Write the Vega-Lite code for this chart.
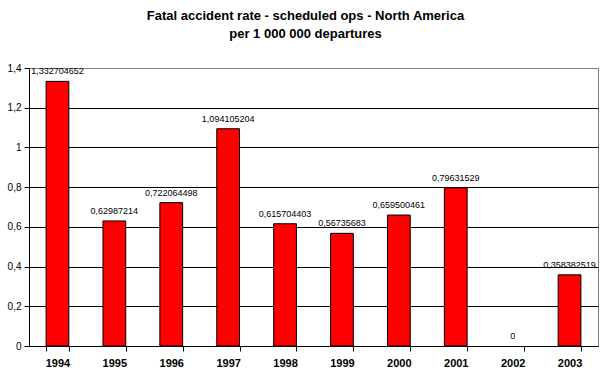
{
  "$schema": "https://vega.github.io/schema/vega-lite/v6.json",
  "width": 569,
  "height": 278,
  "autosize": {"type": "none"},
  "padding": {"left": 29, "top": 68, "right": 8, "bottom": 34},
  "background": "white",
  "title": {
    "text": ["Fatal accident rate - scheduled ops -  North America", "per 1 000 000 departures"],
    "font": "Liberation Sans",
    "fontSize": 13,
    "fontWeight": "bold",
    "color": "black",
    "anchor": "middle",
    "dx": -8,
    "offset": 22,
    "lineHeight": 18
  },
  "config": {
    "locale": {"number": {"decimal": ",", "thousands": " ", "grouping": [3], "currency": ["", ""]}},
    "view": {"stroke": "#808080", "strokeWidth": 1},
    "font": "Liberation Sans"
  },
  "data": {
    "values": [
      {"year": "1994", "rate": 1.332704652},
      {"year": "1995", "rate": 0.62987214},
      {"year": "1996", "rate": 0.722064498},
      {"year": "1997", "rate": 1.094105204},
      {"year": "1998", "rate": 0.615704403},
      {"year": "1999", "rate": 0.56735683},
      {"year": "2000", "rate": 0.659500461},
      {"year": "2001", "rate": 0.79631529},
      {"year": "2002", "rate": 0},
      {"year": "2003", "rate": 0.358382519}
    ]
  },
  "encoding": {
    "x": {
      "field": "year",
      "type": "ordinal",
      "scale": {"paddingInner": 0.6, "paddingOuter": 0.3},
      "axis": {
        "title": null,
        "labelAngle": 0,
        "labelFont": "Liberation Sans",
        "labelFontSize": 11,
        "labelFontWeight": "bold",
        "labelColor": "black",
        "labelPadding": 6,
        "tickBand": "extent",
        "tickColor": "black",
        "tickSize": 5,
        "domainColor": "black",
        "grid": false
      }
    },
    "y": {
      "field": "rate",
      "type": "quantitative",
      "scale": {"domain": [0, 1.4], "nice": false},
      "axis": {
        "title": null,
        "values": [0, 0.2, 0.4, 0.6, 0.8, 1, 1.2, 1.4],
        "format": "~g",
        "labelFont": "Liberation Sans",
        "labelFontSize": 10,
        "labelColor": "black",
        "labelPadding": 3,
        "tickColor": "black",
        "tickSize": 5,
        "domainColor": "black",
        "grid": true,
        "gridColor": {"condition": {"test": "datum.value >= 1.4", "value": "#808080"}, "value": "black"},
        "gridOpacity": 1
      }
    }
  },
  "layer": [
    {
      "transform": [{"filter": "datum.rate > 0"}],
      "mark": {"type": "bar", "color": "#ff0000", "stroke": "black", "strokeWidth": 1}
    },
    {
      "mark": {"type": "text", "baseline": "bottom", "dy": -5, "fontSize": 9, "font": "Liberation Sans", "color": "black"},
      "encoding": {
        "text": {"field": "rate", "type": "quantitative", "format": ".10~g"}
      }
    }
  ]
}
